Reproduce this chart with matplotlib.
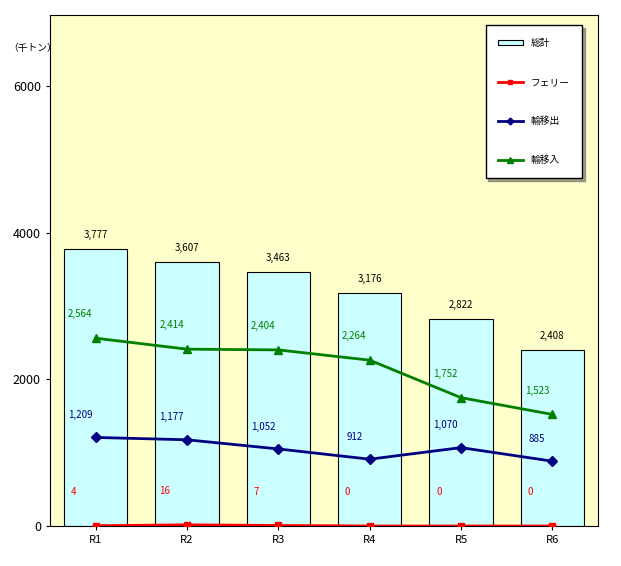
import matplotlib
matplotlib.use("Agg")
import matplotlib.pyplot as plt

plt.rcParams['font.family'] = ['Noto Sans CJK JP', 'DejaVu Sans']

categories = ["R1", "R2", "R3", "R4", "R5", "R6"]
total = [3777, 3607, 3463, 3176, 2822, 2408]
ferry = [4, 16, 7, 0, 0, 0]
outflow = [1209, 1177, 1052, 912, 1070, 885]
inflow = [2564, 2414, 2404, 2264, 1752, 1523]

fig = plt.figure(figsize=(6.21, 5.66), dpi=100)
ax = fig.add_axes([50/621, 40/566, 548/621, 511/566])
ax.set_facecolor("#ffffcc")
x = range(len(categories))
b = ax.bar(x, total, width=0.69, color="#ccffff", edgecolor="black", linewidth=0.8, label="総計", zorder=2)
l1, = ax.plot(x, ferry, color="red", marker="s", markersize=5, linewidth=2, label="フェリー", zorder=3)
l2, = ax.plot(x, outflow, color="#000080", marker="D", markersize=5, linewidth=2, label="輸移出", zorder=3)
l3, = ax.plot(x, inflow, color="#008000", marker="^", markersize=6, linewidth=2, label="輸移入", zorder=3)

for i in x:
    ax.annotate(f"{total[i]:,}", (i, total[i]), xytext=(0, 8), textcoords="offset points", ha="center", fontsize=7, color="black")
    ax.annotate(f"{inflow[i]:,}", (i, inflow[i]), xytext=(-11, 15), textcoords="offset points", ha="center", fontsize=7, color="#008000")
    ax.annotate(f"{outflow[i]:,}", (i, outflow[i]), xytext=(-11, 14), textcoords="offset points", ha="center", fontsize=7, color="#000080")
    ax.annotate(f"{ferry[i]:,}", (i, ferry[i]), xytext=(-16, 22), textcoords="offset points", ha="center", fontsize=7, color="red")

ax.set_xlim(-0.5, 5.5)
ax.set_ylim(0, 6976)
ax.set_yticks([0, 2000, 4000, 6000])
ax.set_xticks(list(x))
ax.set_xticklabels(categories)
ax.tick_params(axis="y", labelsize=9, length=3)
ax.tick_params(axis="x", labelsize=8, length=3)
for s in ax.spines.values():
    s.set_linewidth(0.8)
fig.text(8/621, 1-48/566, "（千トン）", fontsize=7, va="center")

leg = ax.legend([b, l1, l2, l3], ["総計", "フェリー", "輸移出", "輸移入"],
                loc="upper right", bbox_to_anchor=(532/548, (526-25)/511), fontsize=7, frameon=True,
                fancybox=False, edgecolor="black", labelspacing=3.0, borderpad=1.3,
                handlelength=2.5, handleheight=0.4, borderaxespad=0, shadow=True, markerscale=0.7)
leg.get_frame().set_facecolor("white")
fig.savefig("out.png", dpi=100)
